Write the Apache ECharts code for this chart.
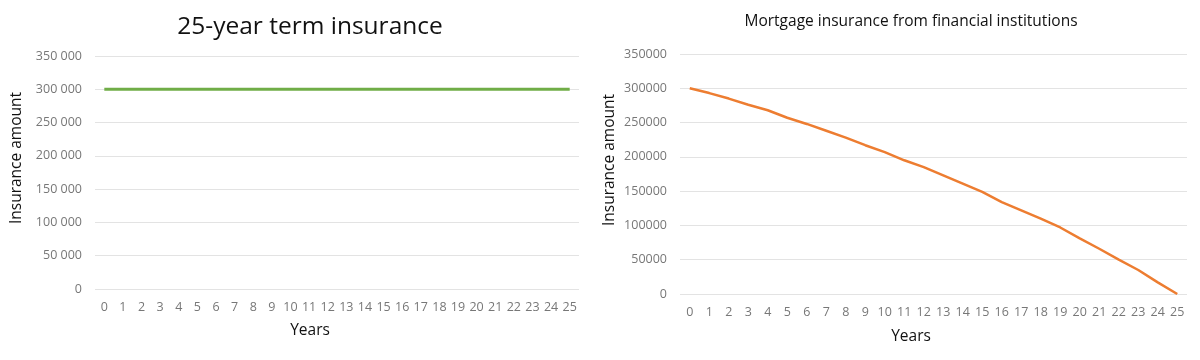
<!DOCTYPE html>
<html>
<head>
<meta charset="utf-8">
<script src="https://cdn.jsdelivr.net/npm/echarts@6/dist/echarts.min.js"></script>
<style>html,body{margin:0;padding:0;background:#fff}#c{width:1200px;height:360px}</style>
</head>
<body>
<div id="c"></div>
<script>
const years = ['0','1','2','3','4','5','6','7','8','9','10','11','12','13','14','15','16','17','18','19','20','21','22','23','24','25'];
const termInsurance = [300000,300000,300000,300000,300000,300000,300000,300000,300000,300000,300000,300000,300000,300000,300000,300000,300000,300000,300000,300000,300000,300000,300000,300000,300000,300000];
const mortgageInsurance = [300000,293000,285000,276000,268000,257000,248000,238000,228000,217000,207000,195000,185000,173000,161000,149000,134000,122000,110000,97000,81000,66000,50000,35000,17000,0];
const leftTitle = '25-year term insurance';
const rightTitle = 'Mortgage insurance from financial institutions';
const yTitle = 'Insurance amount';
const xTitle = 'Years';

const FONT = '"Open Sans", "Noto Sans", sans-serif';
const chart = echarts.init(document.getElementById('c'));
function xAx(gi){
  return {type:'category', gridIndex:gi, data:years, boundaryGap:true,
    axisLine:{show:false}, axisTick:{show:false},
    axisLabel:{color:'#777', fontSize:12.5, fontFamily:FONT, margin:12, interval:0}};
}
function yAx(gi, fmt){
  return {type:'value', gridIndex:gi, min:0, max:350000, interval:50000,
    axisLine:{show:false}, axisTick:{show:false},
    splitLine:{lineStyle:{color:'#e3e3e3', width:1}},
    axisLabel:{color:'#777', fontSize:12.5, fontFamily:FONT, margin:13, formatter:fmt}};
}
function txt(x,y,t,size,rot){
  return {type:'text', x:x, y:y, rotation:rot||0,
    style:{text:t, fill:'#111', font:size+'px '+FONT, textAlign:'center', textVerticalAlign:'middle'}};
}
chart.setOption({
  animation:false,
  grid:[{left:95, top:56, width:484, height:233},{left:680, top:54, width:507, height:240}],
  xAxis:[xAx(0), xAx(1)],
  yAxis:[yAx(0, v => v===0 ? '0' : String(v).replace(/\B(?=(\d{3})+(?!\d))/g,' ')), yAx(1, v => String(v))],
  series:[
    {type:'line', xAxisIndex:0, yAxisIndex:0, data:termInsurance, showSymbol:false, lineStyle:{color:'#70ad47', width:3}},
    {type:'line', xAxisIndex:1, yAxisIndex:1, data:mortgageInsurance, showSymbol:false, lineStyle:{color:'#ed7d31', width:2.5}}
  ],
  graphic:[
    txt(310,27,leftTitle,24.5),
    txt(911,22,rightTitle,15.5),
    txt(17,158,yTitle,15.5,Math.PI/2),
    txt(610,160,yTitle,15.5,Math.PI/2),
    txt(310,331,xTitle,15.5),
    txt(911,337,xTitle,15.5)
  ]
});
</script>
</body>
</html>
